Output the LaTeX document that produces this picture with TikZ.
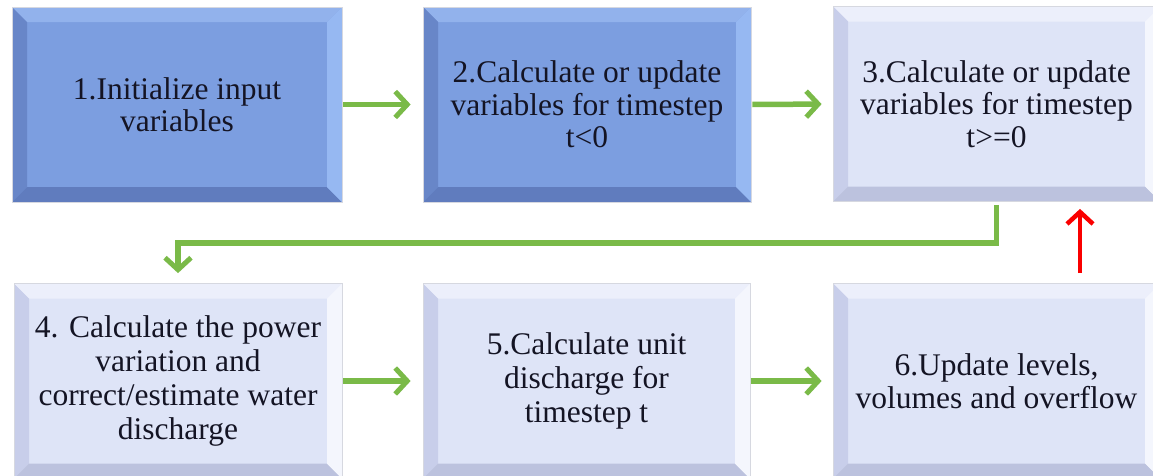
\documentclass[tikz,border=0pt]{standalone}
\usepackage{fontspec}
\setmainfont{Liberation Serif}
\usetikzlibrary{arrows.meta,calc}

% face and bevel colours of the two box kinds
\definecolor{bluefc}{RGB}{124,158,224}
\definecolor{bluetp}{RGB}{146,178,236}
\definecolor{bluelf}{RGB}{104,134,200}
\definecolor{bluebt}{RGB}{96,124,190}
\definecolor{bluert}{RGB}{150,184,242}
\definecolor{palefc}{RGB}{222,228,247}
\definecolor{paletp}{RGB}{236,239,251}
\definecolor{palelf}{RGB}{200,206,234}
\definecolor{palebt}{RGB}{188,194,222}
\definecolor{palert}{RGB}{244,246,253}
\definecolor{edgec}{RGB}{214,216,224}
\definecolor{inkc}{RGB}{20,20,36}
\definecolor{flowgreen}{RGB}{122,186,72}
\definecolor{backred}{RGB}{250,0,0}

\begin{document}
\begin{tikzpicture}[x=1pt,y=-1pt,
  % bevelled box: face, top, left, bottom, right colours
  bevel/.style n args={5}{
    draw=edgec, line width=0.8pt, fill=#1,
    minimum width=328pt, minimum height=195pt, inner sep=0pt,
    font=\fontsize{31.5}{32.5}\selectfont, text=inkc, align=center,
    path picture={
      \coordinate (NW) at (path picture bounding box.north west);
      \coordinate (NE) at (path picture bounding box.north east);
      \coordinate (SW) at (path picture bounding box.south west);
      \coordinate (SE) at (path picture bounding box.south east);
      \coordinate (nw) at ($(NW)+(15pt,-15pt)$);
      \coordinate (ne) at ($(NE)+(-15pt,-15pt)$);
      \coordinate (sw) at ($(SW)+(15pt,15pt)$);
      \coordinate (se) at ($(SE)+(-15pt,15pt)$);
      \fill[#2] (NW) -- (NE) -- (ne) -- (nw) -- cycle;
      \fill[#3] (NW) -- (nw) -- (sw) -- (SW) -- cycle;
      \fill[#4] (SW) -- (sw) -- (se) -- (SE) -- cycle;
      \fill[#5] (NE) -- (SE) -- (se) -- (ne) -- cycle;
    }},
  darkbox/.style={bevel={bluefc}{bluetp}{bluelf}{bluebt}{bluert}},
  lightbox/.style={bevel={palefc}{paletp}{palelf}{palebt}{palert}},
  loose/.style={font=\fontsize{31.5}{34}\selectfont},
  flow/.style={draw=flowgreen, line width=5.5pt,
    -{Straight Barb[length=12pt,width=26pt,line width=5pt]}},
  back/.style={draw=backred, line width=4.5pt,
    -{Straight Barb[length=12pt,width=26pt,line width=4.5pt]}}
]
\useasboundingbox (0,0) rectangle (1153,475);

\node[darkbox, minimum width=330pt] (box1) at (177,104.5)
  {1.Initialize input\\variables};
\node[darkbox] (box2) at (587,104.5)
  {2.Calculate or update\\variables for timestep\\t<0};
\node[lightbox, minimum width=327pt] (box3) at (996.5,104)
  {3.Calculate or update\\variables for timestep\\t>=0};
\node[lightbox, loose] (box4) at (178,381)
  {4. Calculate the power\\variation and\\correct/estimate water\\discharge};
\node[lightbox, loose, minimum width=327pt] (box5) at (586.5,381)
  {5.Calculate unit\\discharge for\\timestep t};
\node[lightbox, minimum width=327pt] (box6) at (996.5,381)
  {6.Update levels,\\volumes and overflow};

\coordinate (turn) at (500,243);
\coordinate (upx) at (1080,0);

\draw[flow, shorten <=1pt, shorten >=12pt] (box1.east) -- (box2.west);
\draw[flow, shorten <=1pt, shorten >=11pt] (box2.east) -- (box3.west);
\draw[flow, shorten <=3pt, shorten >=10pt]
  (box3.south) -- (box3.south |- turn) -| (box4.north);
\draw[flow, shorten <=1pt, shorten >=12pt] (box4.east) -- (box5.west);
\draw[flow, shorten <=1pt, shorten >=11pt] (box5.east) -- (box6.west);
\draw[back, shorten <=10pt, shorten >=7pt]
  (box6.north -| upx) -- (box3.south -| upx);
\end{tikzpicture}
\end{document}
